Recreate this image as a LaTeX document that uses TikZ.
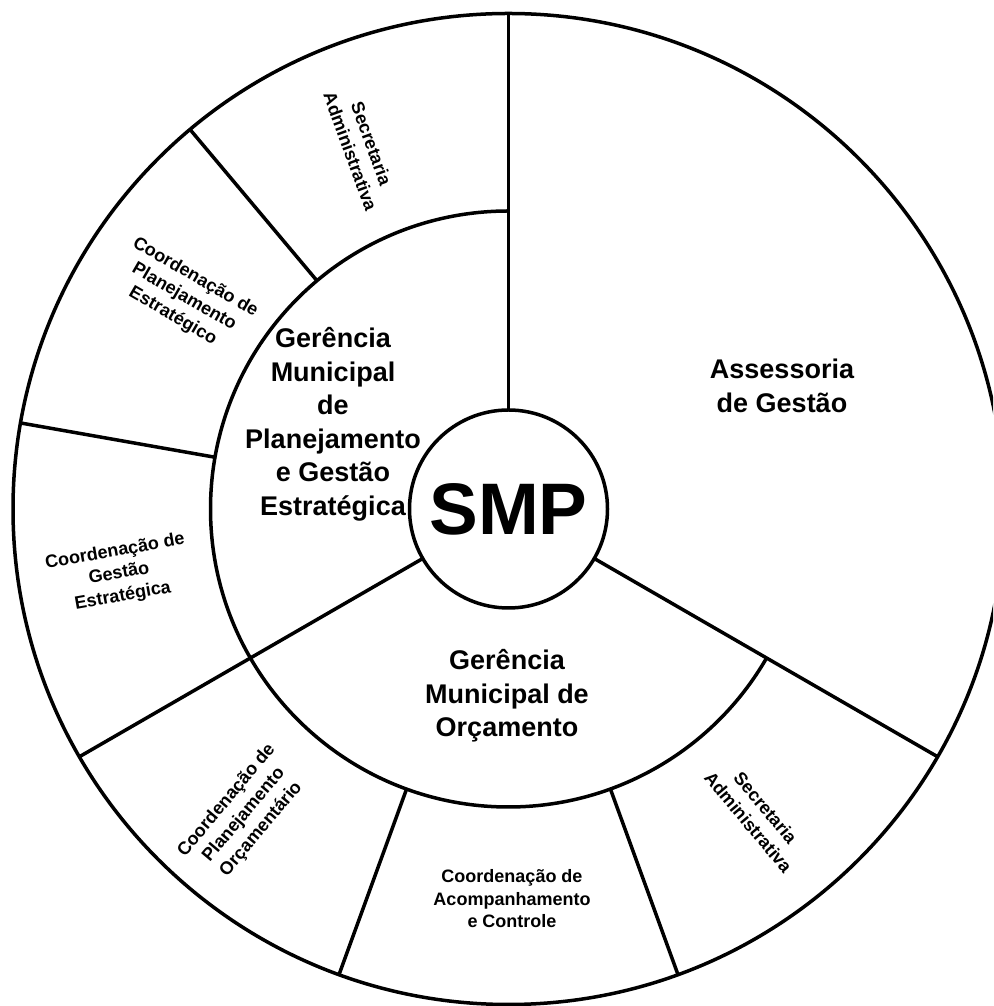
\documentclass[tikz,border=0pt]{standalone}
\usepackage{fontspec}
\setmainfont{Liberation Sans}
\usetikzlibrary{calc}
\begin{document}
\begin{tikzpicture}[x=1pt,y=1pt,
  ring/.style={line width=3.5pt},
  bigtxt/.style={font=\bfseries\fontsize{27}{33.5}\selectfont, align=center, inner sep=0pt},
  smalltxt/.style={font=\bfseries\fontsize{18}{22.5}\selectfont, align=center, inner sep=0pt},
]
\clip (0,0) rectangle (993,1006);
\fill[white] (0,0) rectangle (993,1006);
\coordinate (C) at (508.5,497);
% outer circle
\draw[ring] (C) circle[radius=495.5];
% middle arc
\draw[ring] ($(C)+(90:298)$) arc[start angle=90,end angle=330,radius=298];
% main radial lines
\foreach \a in {90,210,330} \draw[ring] ($(C)+(\a:99)$) -- ($(C)+(\a:495.5)$);
% outer ring dividers
\foreach \a in {130,170,250,290} \draw[ring] ($(C)+(\a:298)$) -- ($(C)+(\a:495.5)$);
% centre
\node[circle, draw, ring, fill=white, minimum size=198pt, inner sep=0pt,
      font=\bfseries\fontsize{73}{73}\selectfont] (smp) at (C) {SMP};
% big labels
\node[bigtxt] (gmpge) at (333,581.5) {Gerência\\Municipal\\de\\Planejamento\\e Gestão\\Estratégica};
\node[bigtxt] (ag) at (782,620) {Assessoria\\de Gestão};
\node[bigtxt] (gmo) at (507,310) {Gerência\\Municipal de\\Orçamento};
% small labels
\node[smalltxt, rotate=-70] (sa1) at (361,858.5) {Secretaria\\Administrativa};
\node[smalltxt, rotate=-30] (cpe) at (184,709) {Coordenação de\\Planejamento\\Estratégico};
\node[smalltxt, rotate=10] (cge) at (119,432) {Coordenação de\\Gestão\\Estratégica};
\node[smalltxt, rotate=50] (cpo) at (244,191) {Coordenação de\\Planejamento\\Orçamentário};
\node[smalltxt] (cac) at (512,107) {Coordenação de\\Acompanhamento\\e Controle};
\node[smalltxt, rotate=-50] (sa2) at (757,191) {Secretaria\\Administrativa};
\end{tikzpicture}
\end{document}
